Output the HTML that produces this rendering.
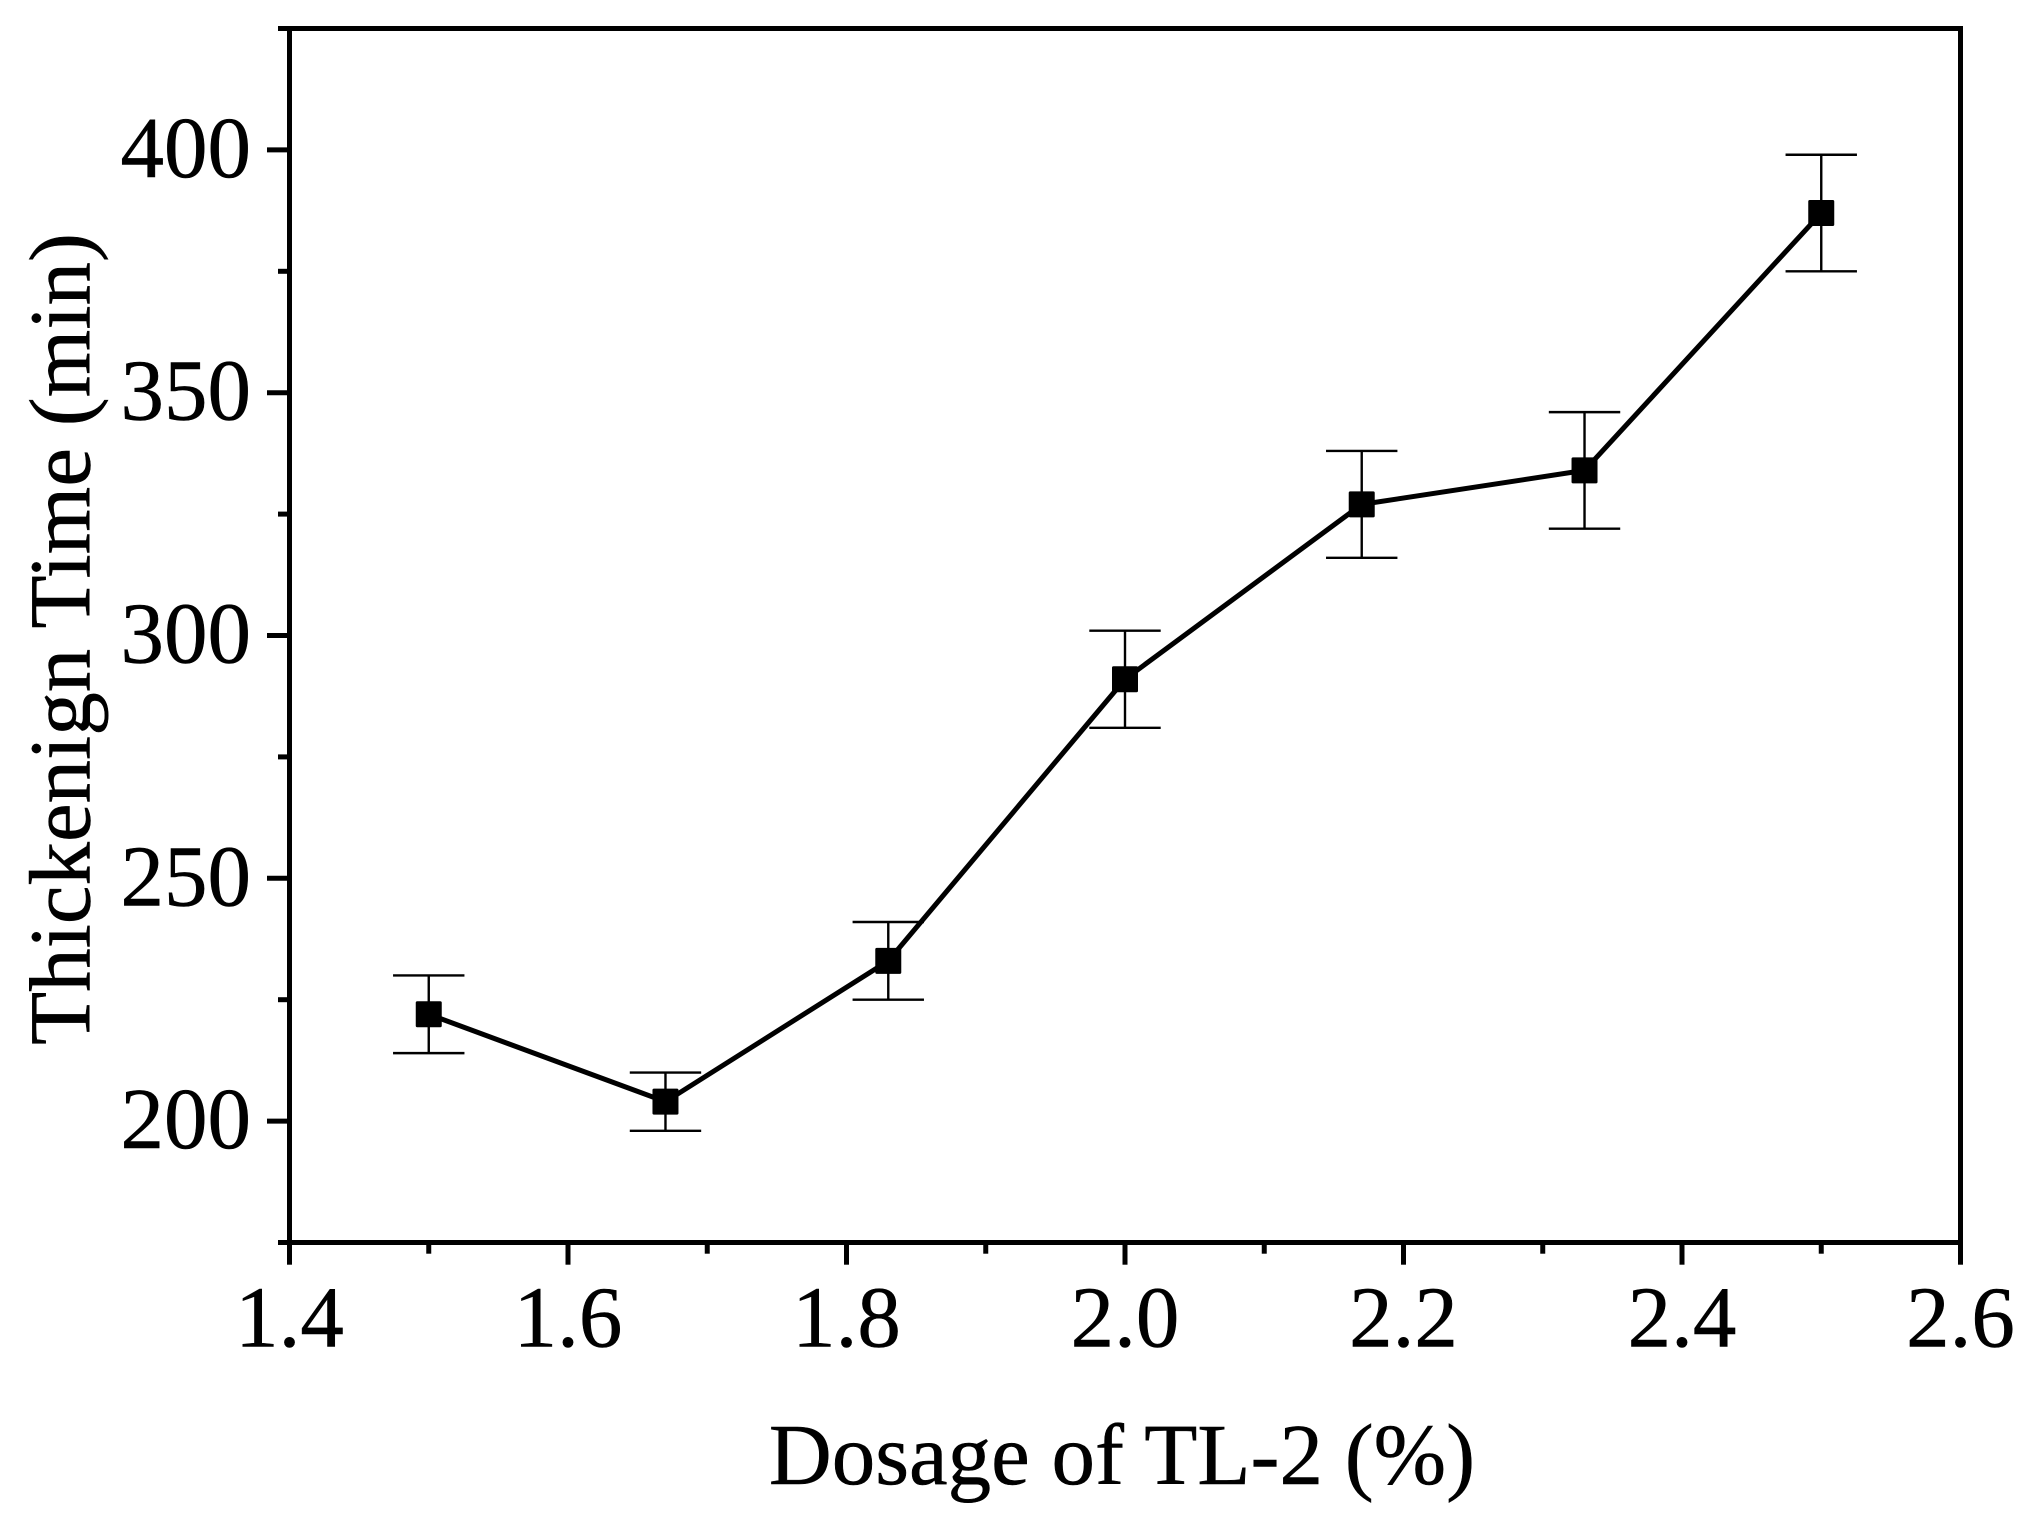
<!DOCTYPE html>
<html lang="en">
<head>
<meta charset="utf-8">
<title>Thickening Time vs Dosage of TL-2</title>
<style>
html,body{margin:0;padding:0;background:#fff;width:2033px;height:1522px;overflow:hidden}
svg{display:block}
text{font-family:"Liberation Serif",serif;fill:#000;stroke:#000;stroke-width:0.5px}
</style>
</head>
<body>
<svg id="chart" xmlns="http://www.w3.org/2000/svg" width="2033" height="1522" viewBox="0 0 2033 1522">
  <rect x="0" y="0" width="2033" height="1522" fill="#fff"/>
  <g id="error-bars"></g>
  <g id="series"></g>
  <g id="ticks"></g>
  <rect x="289.5" y="28.5" width="1671" height="1214" fill="none" stroke="#000" stroke-width="5"/>
  <g id="tick-labels"></g>
  <text x="1122" y="1484" font-size="87" text-anchor="middle">Dosage of TL-2 (%)</text>
  <text transform="translate(89.5,639) rotate(-90)" font-size="87" text-anchor="middle">Thickenign Time (min)</text>
</svg>
<script>
const dosage = [1.5, 1.67, 1.83, 2.0, 2.17, 2.33, 2.5];
const thickeningTime = [222, 204, 233, 291, 327, 334, 387];
const errorMargin = [8, 6, 8, 10, 11, 12, 12];
const xMajorTicks = [1.4, 1.6, 1.8, 2.0, 2.2, 2.4, 2.6];
const xMinorTicks = [1.5, 1.7, 1.9, 2.1, 2.3, 2.5];
const xTickLabels = ["1.4", "1.6", "1.8", "2.0", "2.2", "2.4", "2.6"];
const yMajorTicks = [200, 250, 300, 350, 400];
const yMinorTicks = [175, 225, 275, 325, 375, 425];
const yTickLabels = ["200", "250", "300", "350", "400"];

const NS = 'http://www.w3.org/2000/svg';
const xDomain = [1.4, 2.6];
const yDomain = [175, 425];
const plot = { left: 289.5, right: 1960.5, top: 28.5, bottom: 1242.5 };

function xScale(v) {
  return plot.left + (v - xDomain[0]) / (xDomain[1] - xDomain[0]) * (plot.right - plot.left);
}
function yScale(v) {
  return plot.bottom - (v - yDomain[0]) / (yDomain[1] - yDomain[0]) * (plot.bottom - plot.top);
}
function make(tag, attrs, parent) {
  const el = document.createElementNS(NS, tag);
  for (const k in attrs) el.setAttribute(k, attrs[k]);
  parent.appendChild(el);
  return el;
}

const errorLayer = document.getElementById('error-bars');
const seriesLayer = document.getElementById('series');
const tickLayer = document.getElementById('ticks');
const labelLayer = document.getElementById('tick-labels');

const capHalf = 35.7;
const errWidth = 2.4;
dosage.forEach(function (d, i) {
  const cx = xScale(d);
  const hi = yScale(thickeningTime[i] + errorMargin[i]);
  const lo = yScale(thickeningTime[i] - errorMargin[i]);
  const stem = make('line', { x1: cx, x2: cx, y1: hi, y2: lo, stroke: '#000', 'stroke-width': errWidth }, errorLayer);
  
  
  const capTop = make('line', { x1: cx - capHalf, x2: cx + capHalf, y1: hi, y2: hi, stroke: '#000', 'stroke-width': errWidth }, errorLayer);
  
  
  const capBottom = make('line', { x1: cx - capHalf, x2: cx + capHalf, y1: lo, y2: lo, stroke: '#000', 'stroke-width': errWidth }, errorLayer);
  
  
});

const linePoints = dosage.map(function (d, i) {
  return xScale(d) + ',' + yScale(thickeningTime[i]);
}).join(' ');
const seriesLine = make('polyline', { points: linePoints, fill: 'none', stroke: '#000', 'stroke-width': 5, 'stroke-linejoin': 'round' }, seriesLayer);



const markerSize = 26;
dosage.forEach(function (d, i) {
  const marker = make('rect', {
    x: xScale(d) - markerSize / 2,
    y: yScale(thickeningTime[i]) - markerSize / 2,
    width: markerSize,
    height: markerSize,
    rx: 1.5,
    fill: '#000'
  }, seriesLayer);
  
  
});

const tickWidth = 5;
xMajorTicks.forEach(function (v, i) {
  const x = xScale(v);
  const tick = make('line', { x1: x, x2: x, y1: plot.bottom, y2: 1264.7, stroke: '#000', 'stroke-width': tickWidth }, tickLayer);
  
  
  const label = make('text', { x: x, y: 1346.7, 'font-size': 87, 'text-anchor': 'middle' }, labelLayer);
  
  
  label.textContent = xTickLabels[i];
});
xMinorTicks.forEach(function (v) {
  const x = xScale(v);
  const tick = make('line', { x1: x, x2: x, y1: plot.bottom, y2: 1253.7, stroke: '#000', 'stroke-width': tickWidth }, tickLayer);
  
  
});
yMajorTicks.forEach(function (v, i) {
  const y = yScale(v);
  const tick = make('line', { x1: 267, x2: plot.left, y1: y, y2: y, stroke: '#000', 'stroke-width': tickWidth }, tickLayer);
  
  
  const label = make('text', { x: 251, y: y + 27, 'font-size': 87, 'text-anchor': 'end' }, labelLayer);
  
  
  label.textContent = yTickLabels[i];
});
yMinorTicks.forEach(function (v) {
  const y = yScale(v);
  const tick = make('line', { x1: 278, x2: plot.left, y1: y, y2: y, stroke: '#000', 'stroke-width': tickWidth }, tickLayer);
  
  
});
</script>
</body>
</html>
